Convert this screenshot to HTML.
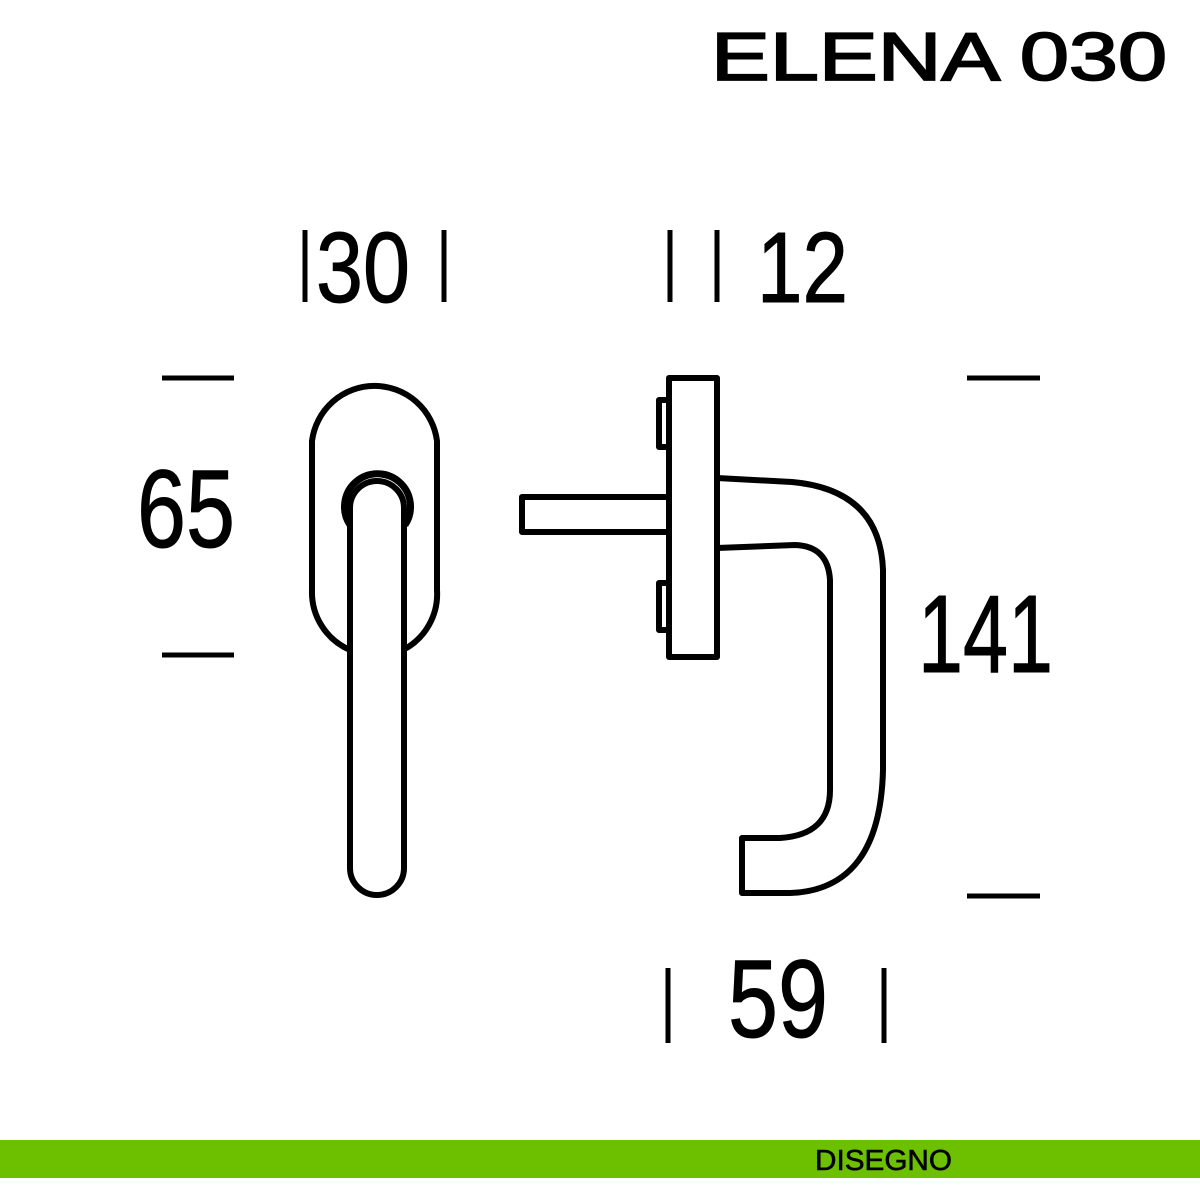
<!DOCTYPE html>
<html><head><style>html,body{margin:0;padding:0;background:#fff}svg{display:block}</style></head>
<body>
<svg width="1200" height="1200" viewBox="0 0 1200 1200" xmlns="http://www.w3.org/2000/svg">
<rect width="1200" height="1200" fill="#fff"/>
<g font-family="Liberation Sans, sans-serif" fill="#000">
<text x="711" y="80" font-size="68" textLength="456" lengthAdjust="spacingAndGlyphs" stroke="#000" stroke-width="1.8">ELENA 030</text>
<text x="316" y="302" font-size="100" textLength="94" lengthAdjust="spacingAndGlyphs" stroke="#000" stroke-width="1">30</text>
<text x="757" y="302" font-size="100" textLength="91" lengthAdjust="spacingAndGlyphs" stroke="#000" stroke-width="1">12</text>
<text x="137" y="547" font-size="110" textLength="98" lengthAdjust="spacingAndGlyphs" stroke="#000" stroke-width="1">65</text>
<text x="918" y="672" font-size="110" textLength="135" lengthAdjust="spacingAndGlyphs" stroke="#000" stroke-width="1">141</text>
<text x="728" y="1037" font-size="110" textLength="100" lengthAdjust="spacingAndGlyphs" stroke="#000" stroke-width="1">59</text>
</g>
<g stroke="#000" stroke-width="5" fill="none">
<line x1="305" y1="230" x2="305" y2="302"/>
<line x1="444" y1="230" x2="444" y2="302"/>
<line x1="670" y1="230" x2="670" y2="302"/>
<line x1="717" y1="230" x2="717" y2="302"/>
<line x1="668" y1="968" x2="668" y2="1043"/>
<line x1="884" y1="968" x2="884" y2="1043"/>
<line x1="162" y1="378" x2="234" y2="378"/>
<line x1="162" y1="655" x2="234" y2="655"/>
<line x1="967" y1="378" x2="1040" y2="378"/>
<line x1="967" y1="896" x2="1040" y2="896"/>
</g>
<g stroke="#000" stroke-width="6" fill="none" stroke-linejoin="round">
<path d="M350,650 A63,63 0 0 1 312,590 L312,441 A63,63 0 0 1 437,441 L437,590 A63,63 0 0 1 403,650"/>
<path d="M350,525 A33,33 0 1 1 405,525" stroke-width="7"/>
<path d="M350,508 A27,27 0 0 1 404,508 L404,868 A27,27 0 0 1 350,868 Z"/>
<rect x="669" y="378" width="48" height="279"/>
<rect x="522" y="497" width="147" height="35"/>
<rect x="659" y="400" width="10" height="47"/>
<rect x="659" y="583" width="10" height="47"/>
<path d="M717,478 L792,482 Q880,490 883,570 L883,770 Q880,890 790,893 L742,893 L742,838 L780,838 Q830,835 830,790 L830,580 Q828,546 795,545 L717,548"/>
</g>
<rect x="0" y="1140" width="1200" height="38" fill="#6cc000"/>
<text x="815" y="1170" font-family="Liberation Sans, sans-serif" font-size="29" textLength="137" lengthAdjust="spacingAndGlyphs" fill="#000" stroke="#000" stroke-width="0.6">DISEGNO</text>
</svg>
</body></html>
